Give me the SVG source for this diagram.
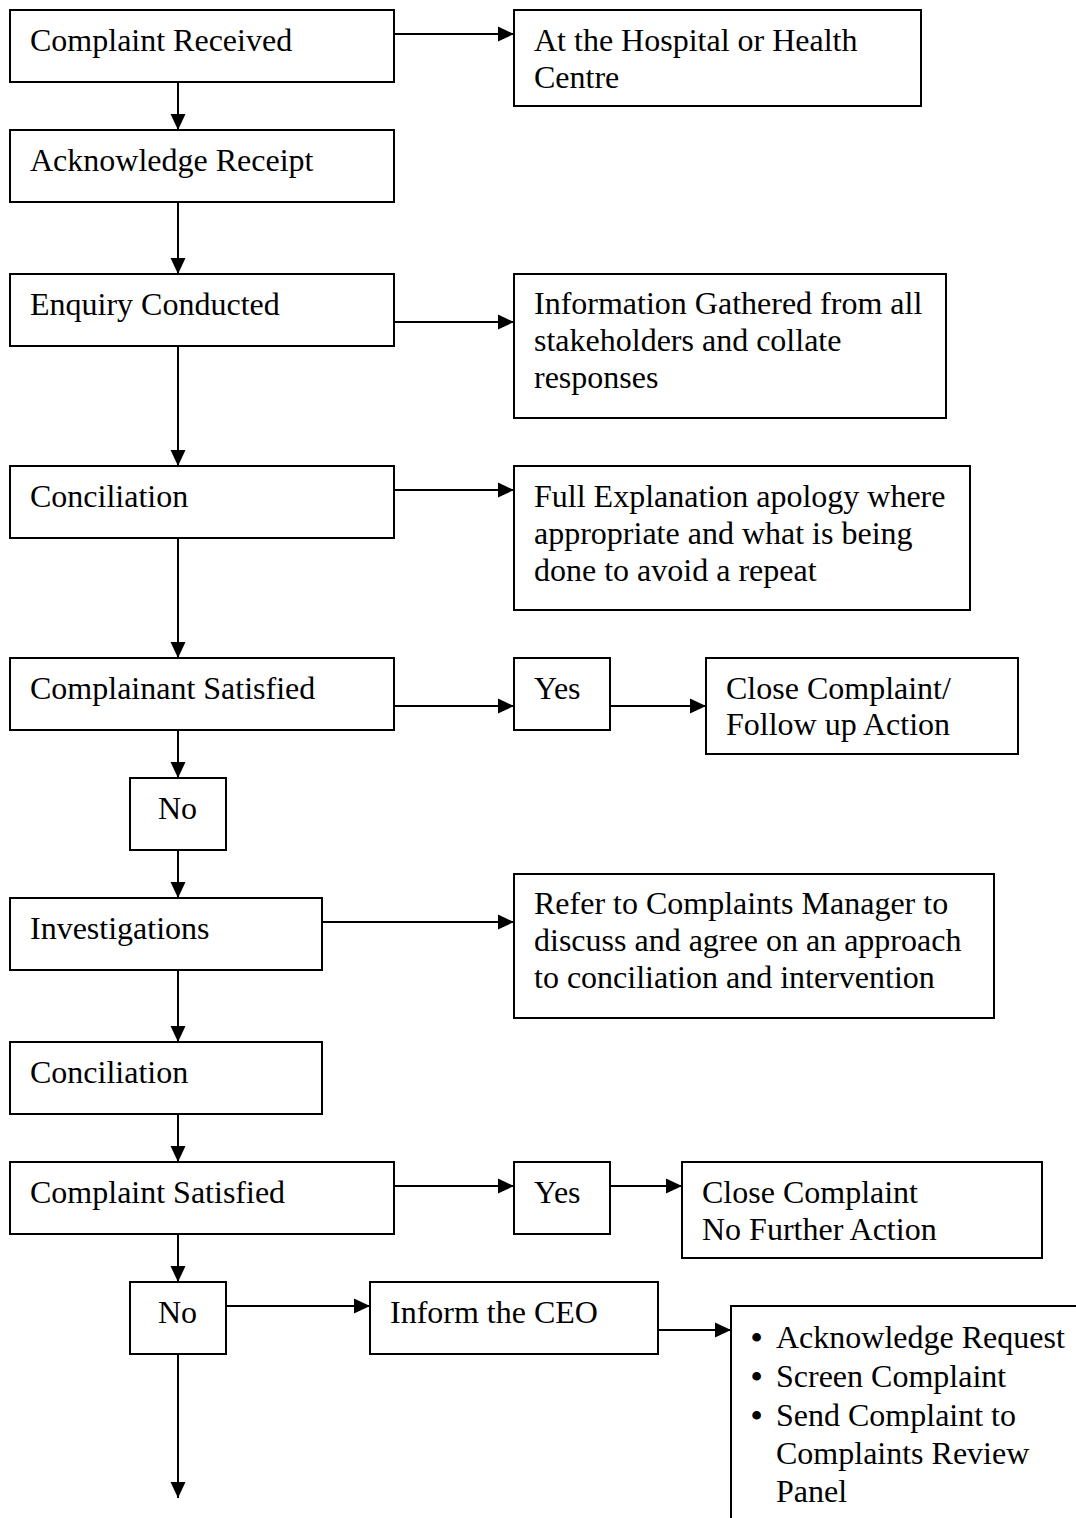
<svg xmlns="http://www.w3.org/2000/svg" width="1076" height="1518" viewBox="0 0 1076 1518">
<style>
.box{fill:#fff;stroke:#000;stroke-width:2}
.t{font-family:"Liberation Serif","Times New Roman",serif;font-size:32px;fill:#000}
.b{font-weight:bold}
.c{fill:none;stroke:#000;stroke-width:2}
</style>
<defs>
<marker id="ah" markerUnits="userSpaceOnUse" markerWidth="18" markerHeight="18" refX="16" refY="8" orient="auto">
<path d="M0,0.5 L16,8 L0,15.5 Z" fill="#000"/>
</marker>
</defs>
<rect width="1076" height="1518" fill="#fff"/>
<g id="connectors">
<line class="c" x1="394" y1="34" x2="514" y2="34" marker-end="url(#ah)"/>
<line class="c" x1="178" y1="82" x2="178" y2="130" marker-end="url(#ah)"/>
<line class="c" x1="178" y1="202" x2="178" y2="274" marker-end="url(#ah)"/>
<line class="c" x1="394" y1="322" x2="514" y2="322" marker-end="url(#ah)"/>
<line class="c" x1="178" y1="346" x2="178" y2="466" marker-end="url(#ah)"/>
<line class="c" x1="394" y1="490" x2="514" y2="490" marker-end="url(#ah)"/>
<line class="c" x1="178" y1="538" x2="178" y2="658" marker-end="url(#ah)"/>
<line class="c" x1="394" y1="706" x2="514" y2="706" marker-end="url(#ah)"/>
<line class="c" x1="610" y1="706" x2="706" y2="706" marker-end="url(#ah)"/>
<line class="c" x1="178" y1="730" x2="178" y2="778" marker-end="url(#ah)"/>
<line class="c" x1="178" y1="850" x2="178" y2="898" marker-end="url(#ah)"/>
<line class="c" x1="322" y1="922" x2="514" y2="922" marker-end="url(#ah)"/>
<line class="c" x1="178" y1="970" x2="178" y2="1042" marker-end="url(#ah)"/>
<line class="c" x1="178" y1="1114" x2="178" y2="1162" marker-end="url(#ah)"/>
<line class="c" x1="394" y1="1186" x2="514" y2="1186" marker-end="url(#ah)"/>
<line class="c" x1="610" y1="1186" x2="682" y2="1186" marker-end="url(#ah)"/>
<line class="c" x1="178" y1="1234" x2="178" y2="1282" marker-end="url(#ah)"/>
<line class="c" x1="226" y1="1306" x2="370" y2="1306" marker-end="url(#ah)"/>
<line class="c" x1="658" y1="1330" x2="731" y2="1330" marker-end="url(#ah)"/>
<line class="c" x1="178" y1="1354" x2="178" y2="1498" marker-end="url(#ah)"/>
</g>
<g id="n1"><rect class="box" x="10" y="10" width="384" height="72"/><text class="t" x="30" y="51">Complaint Received</text></g>
<g id="n2"><rect class="box" x="514" y="10" width="407" height="96"/><text class="t" x="534" y="51">At the Hospital or Health</text><text class="t" x="534" y="88">Centre</text></g>
<g id="n3"><rect class="box" x="10" y="130" width="384" height="72"/><text class="t" x="30" y="171">Acknowledge Receipt</text></g>
<g id="n4"><rect class="box" x="10" y="274" width="384" height="72"/><text class="t" x="30" y="315">Enquiry Conducted</text></g>
<g id="n5"><rect class="box" x="514" y="274" width="432" height="144"/><text class="t" x="534" y="314">Information Gathered from all</text><text class="t" x="534" y="351">stakeholders and collate</text><text class="t" x="534" y="388">responses</text></g>
<g id="n6"><rect class="box" x="10" y="466" width="384" height="72"/><text class="t" x="30" y="507">Conciliation</text></g>
<g id="n7"><rect class="box" x="514" y="466" width="456" height="144"/><text class="t" x="534" y="507">Full Explanation apology where</text><text class="t" x="534" y="544">appropriate and what is being</text><text class="t" x="534" y="581">done to avoid a repeat</text></g>
<g id="n8"><rect class="box" x="10" y="658" width="384" height="72"/><text class="t" x="30" y="699">Complainant Satisfied</text></g>
<g id="n9"><rect class="box" x="514" y="658" width="96" height="72"/><text class="t" x="534" y="699">Yes</text></g>
<g id="n10"><rect class="box" x="706" y="658" width="312" height="96"/><text class="t" x="726" y="699">Close Complaint/</text><text class="t" x="726" y="735">Follow up Action</text></g>
<g id="n11"><rect class="box" x="130" y="778" width="96" height="72"/><text class="t" x="158" y="819">No</text></g>
<g id="n12"><rect class="box" x="10" y="898" width="312" height="72"/><text class="t" x="30" y="939">Investigations</text></g>
<g id="n13"><rect class="box" x="514" y="874" width="480" height="144"/><text class="t" x="534" y="914">Refer to Complaints Manager to</text><text class="t" x="534" y="951">discuss and agree on an approach</text><text class="t" x="534" y="988">to conciliation and intervention</text></g>
<g id="n14"><rect class="box" x="10" y="1042" width="312" height="72"/><text class="t" x="30" y="1083">Conciliation</text></g>
<g id="n15"><rect class="box" x="10" y="1162" width="384" height="72"/><text class="t" x="30" y="1203">Complaint Satisfied</text></g>
<g id="n16"><rect class="box" x="514" y="1162" width="96" height="72"/><text class="t" x="534" y="1203">Yes</text></g>
<g id="n17"><rect class="box" x="682" y="1162" width="360" height="96"/><text class="t" x="702" y="1203">Close Complaint</text><text class="t" x="702" y="1240">No Further Action</text></g>
<g id="n18"><rect class="box" x="130" y="1282" width="96" height="72"/><text class="t" x="158" y="1323">No</text></g>
<g id="n19"><rect class="box" x="370" y="1282" width="288" height="72"/><text class="t" x="390" y="1323">Inform the CEO</text></g>
<g id="n20"><rect class="box" x="731" y="1306" width="400" height="300"/>
<text class="t" x="751" y="1348"><tspan class="b">•</tspan><tspan x="776">Acknowledge Request</tspan></text>
<text class="t" x="751" y="1387"><tspan class="b">•</tspan><tspan x="776">Screen Complaint</tspan></text>
<text class="t" x="751" y="1426"><tspan class="b">•</tspan><tspan x="776">Send Complaint to</tspan></text>
<text class="t" x="776" y="1464">Complaints Review</text>
<text class="t" x="776" y="1502">Panel</text>
</g>
</svg>
